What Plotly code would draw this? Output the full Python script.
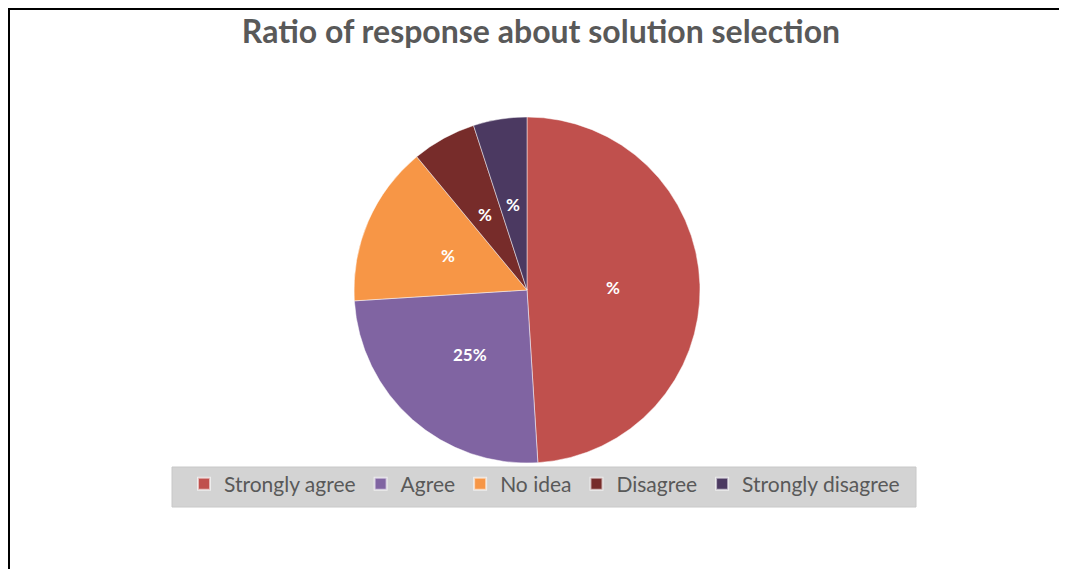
import math
import plotly.graph_objects as go

categories = ["Strongly agree", "Agree", "No idea", "Disagree", "Strongly disagree"]
values = [49, 25, 15, 6, 5]
slice_labels = ["%", "25%", "%", "%", "%"]
colors = ["#C0504D", "#8064A2", "#F79646", "#772C2A", "#4B3961"]

# the page body has an 8px margin; map reference pixels into figure pixels
OFF = 8
W, H = 1067 - OFF, 569 - OFF

def px(x):
    return (x - OFF) / W

def py(y):
    return 1 - (y - OFF) / H

# pie geometry (reference pixels)
CX, CY, R = 527, 290, 173

fig = go.Figure(go.Pie(
    labels=categories,
    values=values,
    textinfo="none",
    marker=dict(colors=colors, line=dict(color="rgba(255,255,255,0.6)", width=0.8)),
    sort=False,
    direction="clockwise",
    rotation=0,
    domain=dict(x=[px(CX - R), px(CX + R)], y=[py(CY + R), py(CY - R)]),
    hoverinfo="label+value",
))

# data labels placed at half radius on each slice's mid-angle
annotations = []
total = sum(values)
cum = 0
for v, t in zip(values, slice_labels):
    mid = (cum + v / 2) / total * 2 * math.pi
    cum += v
    lx = CX + 0.5 * R * math.sin(mid)
    ly = CY - 0.5 * R * math.cos(mid)
    annotations.append(dict(
        x=px(lx), y=py(ly), xref="paper", yref="paper",
        text="<b>" + t + "</b>", showarrow=False,
        font=dict(family="Lato", size=17, color="white"),
        xanchor="center", yanchor="middle",
    ))

fig.update_layout(
    width=W, height=H,
    margin=dict(l=0, r=0, t=0, b=0),
    paper_bgcolor="white",
    plot_bgcolor="white",
    title=dict(
        text="<b>Ratio of response about solution selection</b>",
        font=dict(family="Lato", size=32, color="#595959"),
        x=px(541), xanchor="center", y=py(32), yanchor="middle",
    ),
    showlegend=True,
    legend=dict(
        orientation="h",
        x=px(184), xanchor="left",
        y=py(484), yanchor="middle",
        bgcolor="rgba(0,0,0,0)",
        font=dict(family="Lato", size=21, color="#595959"),
        itemsizing="constant",
        traceorder="normal",
    ),
    annotations=annotations,
    shapes=[
        dict(type="rect", xref="paper", yref="paper",
             x0=px(172), x1=px(916), y0=py(507), y1=py(467),
             fillcolor="#D3D3D3", line=dict(color="#C8C8C8", width=1), layer="below"),
        dict(type="line", xref="paper", yref="paper",
             x0=0, x1=1, y0=py(9), y1=py(9),
             line=dict(color="black", width=2)),
        dict(type="line", xref="paper", yref="paper",
             x0=px(9), x1=px(9), y0=py(9), y1=0,
             line=dict(color="black", width=2)),
    ],
)

fig.write_html("out.html")
